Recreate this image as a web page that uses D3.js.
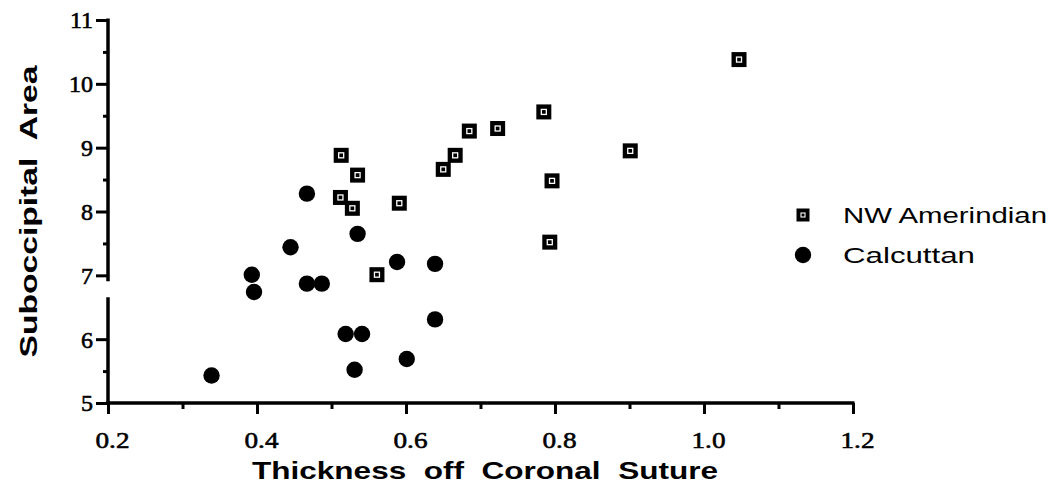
<!DOCTYPE html>
<html>
<head>
<meta charset="utf-8">
<script src="https://cdn.jsdelivr.net/npm/d3@7"></script>
<style>
  html, body { margin: 0; padding: 0; background: #fff; }
  svg { display: block; }
</style>
</head>
<body>
<svg id="chart" width="1055" height="487"></svg>
<script>
// ---- data ----
const amerX = [0.513, 0.535, 0.512, 0.528, 0.591, 0.561, 0.650, 0.666, 0.685, 0.723, 0.785, 0.796, 0.793, 0.901, 1.047];
const amerY = [8.88, 8.57, 8.22, 8.05, 8.13, 7.01, 8.66, 8.88, 9.26, 9.30, 9.56, 8.48, 7.52, 8.95, 10.38];
const calcX = [0.467, 0.535, 0.445, 0.588, 0.639, 0.393, 0.396, 0.467, 0.487, 0.639, 0.519, 0.541, 0.601, 0.531, 0.339];
const calcY = [8.28, 7.65, 7.44, 7.21, 7.18, 7.01, 6.74, 6.87, 6.87, 6.31, 6.08, 6.08, 5.69, 5.52, 5.43];
const xTicks = [0.2, 0.4, 0.6, 0.8, 1.0, 1.2];
const xMinor = [0.3, 0.5, 0.7, 0.9, 1.1];
const yTicks = [5, 6, 7, 8, 9, 10, 11];
const yMinor = [5.5, 7.5, 8.5, 9.5, 10.5];
const seriesNames = ["NW Amerindian", "Calcuttan"];
const xTitle = "Thickness  off  Coronal  Suture";
const yTitle = "Suboccipital  Area";

// ---- scales ----
const x = d3.scaleLinear().domain([0.2, 1.2]).range([108, 853]);
const y = d3.scaleLinear().domain([5, 11]).range([403, 20]);

const svg = d3.select("#chart");
const serif = "'Liberation Serif', 'Times New Roman', serif";
const sans = "'Liberation Sans', Arial, Helvetica, sans-serif";

// x axis
const xAxis = d3.axisBottom(x).tickValues(xTicks).tickSize(11).tickSizeOuter(0)
  .tickFormat(d3.format(".1f"));
const gx = svg.append("g").attr("transform", `translate(0,${y(5)})`).call(xAxis);
gx.select(".domain").remove();
gx.selectAll(".tick line").style("stroke", "#000").style("stroke-width", "3px");
gx.selectAll(".tick text").attr("font-family", serif).attr("font-size", 24)
  .attr("fill", "#000").attr("y", 45).attr("dy", 0)
  .attr("textLength", 34).attr("lengthAdjust", "spacingAndGlyphs")
  .style("stroke", "#000").style("stroke-width", "0.6px")
  .attr("transform", "translate(4,0)");
const gxm = svg.append("g").attr("transform", `translate(0,${y(5)})`)
  .call(d3.axisBottom(x).tickValues(xMinor).tickSize(6).tickFormat(""));
gxm.select(".domain").remove();
gxm.selectAll(".tick line").style("stroke", "#000").style("stroke-width", "3px");

// x axis line
svg.append("line").attr("x1", x(0.2) - 2).attr("x2", x(1.2) + 1.5)
  .attr("y1", y(5)).attr("y2", y(5))
  .style("stroke", "#000").style("stroke-width", "3.5px");

// y axis (with a break between 6 and 7)
const yAxis = d3.axisLeft(y).tickValues(yTicks).tickSize(12).tickSizeOuter(0)
  .tickFormat(d3.format("d"));
const gy = svg.append("g").attr("transform", `translate(${x(0.2)},0)`).call(yAxis);
gy.select(".domain").remove();
gy.selectAll(".tick line").style("stroke", "#000").style("stroke-width", "3px");
gy.selectAll(".tick text").attr("font-family", serif).attr("font-size", 24)
  .style("stroke", "#000").style("stroke-width", "0.6px")
  .attr("fill", "#000").attr("x", -15).attr("dy", "0.33em");
const gym = svg.append("g").attr("transform", `translate(${x(0.2)},0)`)
  .call(d3.axisLeft(y).tickValues(yMinor).tickSize(5).tickFormat(""));
gym.select(".domain").remove();
gym.selectAll(".tick line").style("stroke", "#000").style("stroke-width", "3px");

// axis line segments
svg.append("line").attr("x1", x(0.2)).attr("x2", x(0.2))
  .attr("y1", y(11) - 1.5).attr("y2", y(7) + 6)
  .style("stroke", "#000").style("stroke-width", "3.5px");
svg.append("line").attr("x1", x(0.2)).attr("x2", x(0.2))
  .attr("y1", y(6.5) - 10).attr("y2", y(5) + 1.5)
  .style("stroke", "#000").style("stroke-width", "3.5px");

// axis titles
svg.append("text").attr("x", 485).attr("y", 479).attr("text-anchor", "middle")
  .attr("font-family", sans).attr("font-weight", "bold").attr("font-size", 24)
  .attr("textLength", 466).attr("lengthAdjust", "spacingAndGlyphs")
  .attr("fill", "#000").style("white-space", "pre").text(xTitle);
svg.append("text").attr("transform", `translate(37,${y(8.0)}) rotate(-90)`)
  .attr("text-anchor", "middle")
  .attr("font-family", sans).attr("font-weight", "bold").attr("font-size", 24)
  .attr("textLength", 292).attr("lengthAdjust", "spacingAndGlyphs")
  .attr("fill", "#000").style("white-space", "pre").text(yTitle);

// points
const amer = amerX.map((v, i) => ({ x: v, y: amerY[i] }));
const calc = calcX.map((v, i) => ({ x: v, y: calcY[i] }));

svg.append("g").selectAll("circle").data(calc).join("circle")
  .attr("cx", d => x(d.x)).attr("cy", d => y(d.y)).attr("r", 8.2).attr("fill", "#000");

const sq = svg.append("g").selectAll("g").data(amer).join("g")
  .attr("transform", d => `translate(${x(d.x)},${y(d.y)})`);
sq.append("rect").attr("x", -7.5).attr("y", -7.5).attr("width", 15).attr("height", 15).attr("fill", "#000");
sq.append("rect").attr("x", -2.5).attr("y", -2.5).attr("width", 5).attr("height", 5)
  .attr("fill", "none").attr("stroke", "#fff").attr("stroke-width", 1.3);

// legend
const leg = svg.append("g");
const l1 = leg.append("g").attr("transform", "translate(803,215)");
l1.append("rect").attr("x", -6.5).attr("y", -6.5).attr("width", 13).attr("height", 13).attr("fill", "#000");
l1.append("rect").attr("x", -2).attr("y", -2).attr("width", 4).attr("height", 4)
  .attr("fill", "none").attr("stroke", "#fff").attr("stroke-width", 1.1);
leg.append("circle").attr("cx", 803).attr("cy", 255).attr("r", 8.2).attr("fill", "#000");
const legW = [204, 132];
leg.selectAll("text").data(seriesNames).join("text")
  .attr("x", 843).attr("y", (d, i) => 215 + i * 40).attr("dy", "0.36em")
  .attr("textLength", (d, i) => legW[i]).attr("lengthAdjust", "spacingAndGlyphs")
  .attr("font-family", sans).attr("font-size", 22).attr("fill", "#000").text(d => d);
</script>
</body>
</html>
